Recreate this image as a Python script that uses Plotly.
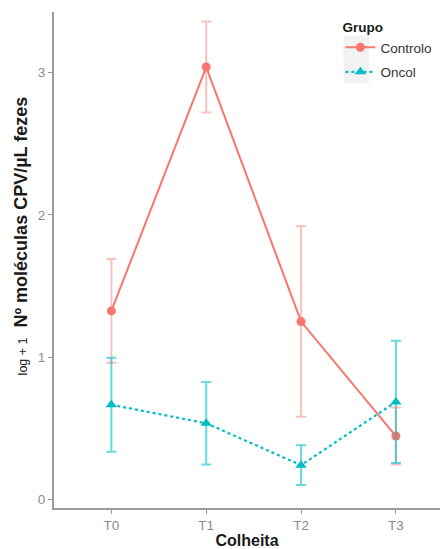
import plotly.graph_objects as go

# Sampling times
colheita = ["T0", "T1", "T2", "T3"]

# Mean log+1 CPV molecules per µL faeces, and standard errors, per group
controlo_media = [1.325, 3.04, 1.25, 0.445]
controlo_erro = [0.365, 0.32, 0.67, 0.20]
oncol_media = [0.665, 0.535, 0.24, 0.685]
oncol_erro = [0.33, 0.29, 0.14, 0.43]

cor_controlo = "#F8766D"
cor_oncol = "#00BFC4"

fig = go.Figure()

fig.add_trace(go.Scatter(
    x=colheita, y=controlo_media, name="Controlo", legendgroup="controlo",
    mode="lines+markers",
    line=dict(color=cor_controlo, width=2),
    marker=dict(symbol="circle", size=9, color=cor_controlo),
    error_y=dict(type="data", array=controlo_erro, visible=True,
                 color="rgba(248,118,109,0.45)", thickness=2, width=5),
))

fig.add_trace(go.Scatter(
    x=colheita, y=oncol_media, name="Oncol", legendgroup="oncol",
    mode="lines+markers",
    line=dict(color=cor_oncol, width=2.2, dash="dot"),
    marker=dict(symbol="triangle-up", size=10, color=cor_oncol),
    error_y=dict(type="data", array=oncol_erro, visible=True,
                 color="rgba(0,191,196,0.6)", thickness=2, width=5),
))

# light grey legend key backgrounds
for y0, y1 in [(0.904, 0.952), (0.856, 0.904)]:
    fig.add_shape(type="rect", xref="paper", yref="paper",
                  x0=0.75, x1=0.816, y0=y0, y1=y1,
                  fillcolor="#F2F2F2", line=dict(width=0), layer="below")

fig.add_annotation(
    xref="paper", yref="paper", x=-0.085, y=0.548,
    xanchor="center", yanchor="middle", textangle=-90, showarrow=False,
    text=("<span style='font-size:12.5px'>log + 1</span>  "
          "<b>Nº moléculas CPV/µL fezes</b>"),
    font=dict(family="Liberation Sans, Arial, sans-serif", size=18, color="#1a1a1a"),
)

fig.update_layout(
    width=440, height=549,
    margin=dict(l=54, r=0, t=12, b=41),
    plot_bgcolor="white", paper_bgcolor="white",
    font=dict(family="Liberation Sans, Arial, sans-serif", color="#333333"),
    showlegend=True,
    legend=dict(
        title=dict(text="<b>Grupo</b>", font=dict(size=13.5, color="#1a1a1a")),
        x=0.742, y=0.995, xanchor="left", yanchor="top",
        font=dict(size=13.5, color="#333333"),
        bgcolor="rgba(0,0,0,0)", itemwidth=30, tracegroupgap=4,
    ),
    xaxis=dict(
        range=[-0.605, 3.465], showgrid=False, zeroline=False,
        showline=True, linecolor="#9a9a9a", linewidth=2,
        ticks="outside", ticklen=4, tickcolor="#9a9a9a",
        tickfont=dict(size=13.5, color="#8c8c8c"),
        title=dict(text="<b>Colheita</b>", font=dict(size=16, color="#1a1a1a"), standoff=4),
    ),
    yaxis=dict(
        range=[-0.061, 3.427], showgrid=False, zeroline=False,
        showline=True, linecolor="#9a9a9a", linewidth=2,
        tickvals=[0, 1, 2, 3], ticks="outside", ticklen=4, tickcolor="#9a9a9a",
        tickfont=dict(size=13.5, color="#8c8c8c"),
    ),
)

fig.write_html("out.html")
